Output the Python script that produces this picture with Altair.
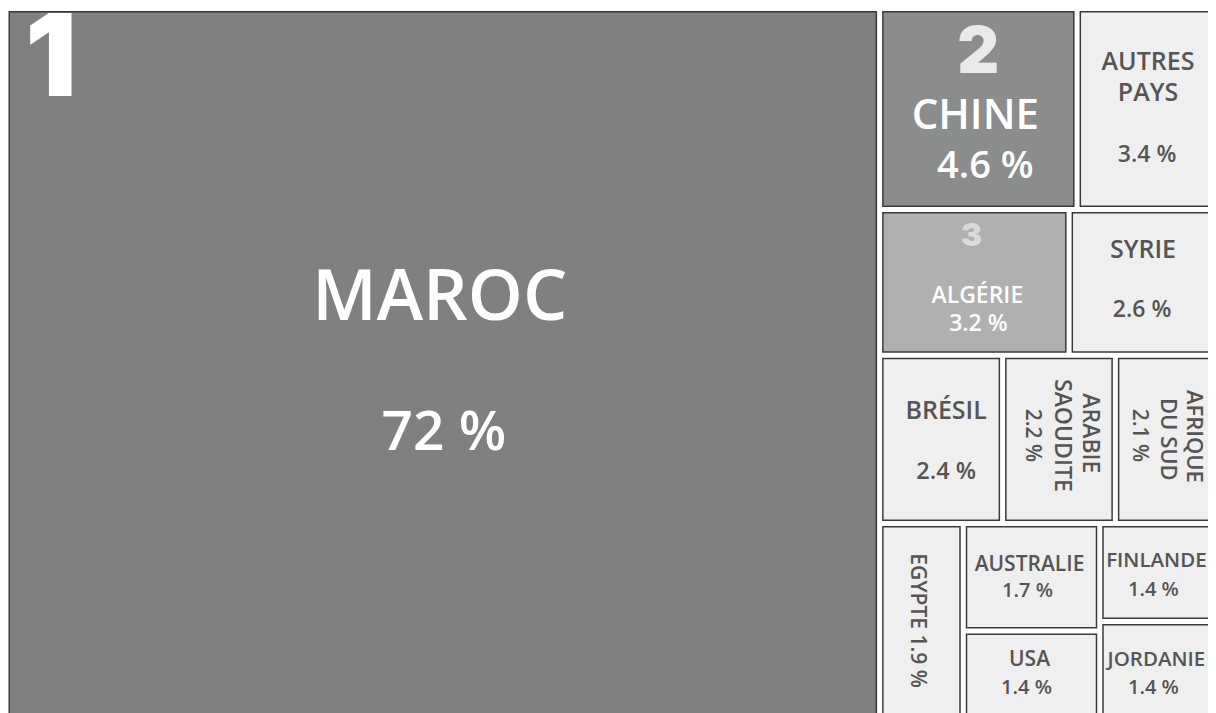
import altair as alt
import pandas as pd

# ---------------- data ----------------
countries = ["MAROC", "CHINE", "AUTRES PAYS", "ALGÉRIE", "SYRIE", "BRÉSIL",
             "ARABIE SAOUDITE", "AFRIQUE DU SUD", "EGYPTE", "AUSTRALIE", "USA",
             "FINLANDE", "JORDANIE"]
shares = [72, 4.6, 3.4, 3.2, 2.6, 2.4, 2.2, 2.1, 1.9, 1.7, 1.4, 1.4, 1.4]
ranks = {"MAROC": "1", "CHINE": "2", "ALGÉRIE": "3"}

# treemap nesting (slice / dice alternating)
nesting = ["MAROC",
           [["CHINE", "AUTRES PAYS"],
            ["ALGÉRIE", "SYRIE"],
            ["BRÉSIL", "ARABIE SAOUDITE", "AFRIQUE DU SUD"],
            ["EGYPTE", ["AUSTRALIE", "USA"], ["FINLANDE", "JORDANIE"]]]]

value = dict(zip(countries, shares))

def total(node):
    if isinstance(node, str):
        return value[node]
    return sum(total(c) for c in node)

rects = {}

def layout(node, x0, y0, x1, y1, horizontal):
    if isinstance(node, str):
        rects[node] = (x0, y0, x1, y1)
        return
    t = total(node)
    pos = x0 if horizontal else y0
    for c in node:
        frac = total(c) / t
        if horizontal:
            nxt = pos + (x1 - x0) * frac
            layout(c, pos, y0, nxt, y1, not horizontal)
        else:
            nxt = pos + (y1 - y0) * frac
            layout(c, x0, pos, x1, nxt, not horizontal)
        pos = nxt

layout(nesting, 0.0, 0.0, 1.0, 1.0, True)

def pct(v):
    return f"{v:g} %"

# ---------------- view (scales crop the treemap like the original) ----------------
W, H = 1200, 705
span_x, span_y = 1217.0, 711.0   # full treemap extent in px (a bit larger than the view)
xa = 2.0 / span_x
ya = -0.5 / span_y
xscale = alt.Scale(domain=[xa, xa + W / span_x], nice=False, zero=False)
yscale = alt.Scale(domain=[ya, ya + H / span_y], nice=False, zero=False, reverse=True)

fills = {"MAROC": "#808080", "CHINE": "#8b8c8c", "ALGÉRIE": "#b0b0b0"}

def inset(r, px):
    x0, y0, x1, y1 = r
    return (x0 + px / span_x, y0 + px / span_y, x1 - px / span_x, y1 - px / span_y)

border_df = pd.DataFrame([
    dict(zip(["x", "y", "x2", "y2"], inset(r, 2.5)), country=c) for c, r in rects.items()
])
tile_df = pd.DataFrame([
    dict(zip(["x", "y", "x2", "y2"], inset(r, 4.0)), country=c,
         fill=fills.get(c, "#efefef")) for c, r in rects.items()
])

# ---------------- label styling (offsets in px from tile centre) ----------------
# (text or None for the share, dx, dy, font size)
label_spec = {
    "MAROC": [("MAROC", -3, -65, 70), (None, 1, 69, 55)],
    "CHINE": [("CHINE", -3, 7, 42), (None, 7, 58, 38)],
    "AUTRES PAYS": [("AUTRES", -2, -47, 25), ("PAYS", -2, -16, 25), (None, -3, 46, 23)],
    "ALGÉRIE": [("ALGÉRIE", 3, 14, 23), (None, 4, 42, 23)],
    "SYRIE": [("SYRIE", -3, -32, 25), (None, -4, 28, 23)],
    "BRÉSIL": [("BRÉSIL", 5, -28, 25), (None, 5, 33, 23.5)],
    "ARABIE SAOUDITE": [("ARABIE", 31, -6, 23), ("SAOUDITE", 3, -4, 23), (None, -27, -4, 21)],
    "AFRIQUE DU SUD": [("AFRIQUE", 25, -3, 22), ("DU SUD", -1, 0, 22), (None, -30, -4, 21)],
    "EGYPTE": [("EGYPTE {p}", -4, -1, 21)],
    "AUSTRALIE": [("AUSTRALIE", -2, -12, 21), (None, -4, 14, 20)],
    "USA": [("USA", -2, -15, 21), (None, -5, 13, 20)],
    "FINLANDE": [("FINLANDE", -5, -12, 20.5), (None, -8, 17, 20)],
    "JORDANIE": [("JORDANIE", -5, -11, 20.5), (None, -8, 17, 20)],
}
rotated = {"ARABIE SAOUDITE", "AFRIQUE DU SUD", "EGYPTE"}
dark = {"MAROC", "CHINE", "ALGÉRIE"}

label_rows = []
for c in countries:
    x0, y0, x1, y1 = rects[c]
    for txt, dx, dy, size in label_spec[c]:
        if txt is None:
            txt = pct(value[c])
        txt = txt.replace("{p}", pct(value[c]))
        label_rows.append({
            "text": txt,
            "x": (x0 + x1) / 2 + dx / span_x,
            "y": (y0 + y1) / 2 + dy / span_y,
            "size": size,
            "angle": 90 if c in rotated else 0,
            "color": "#ffffff" if c in dark else "#555555",
        })
label_df = pd.DataFrame(label_rows)

rank_spec = {"MAROC": (0.0, 0.0, 45, 53, 114, "#ffffff"),
             "CHINE": (0.5, 0.0, 0, 44, 65, "#e9e9e9"),
             "ALGÉRIE": (0.5, 0.0, -3, 27, 32, "#dadada")}
rank_rows = []
for c, rk in ranks.items():
    x0, y0, x1, y1 = rects[c]
    fx, fy, dx, dy, size, col = rank_spec[c]
    rank_rows.append({"text": rk,
                      "x": x0 + (x1 - x0) * fx + dx / span_x,
                      "y": y0 + (y1 - y0) * fy + dy / span_y,
                      "size": size, "color": col})
rank_df = pd.DataFrame(rank_rows)

def rect_layer(df, **mark):
    return alt.Chart(df).mark_rect(**mark).encode(
        x=alt.X("x:Q", scale=xscale, axis=None),
        x2="x2:Q",
        y=alt.Y("y:Q", scale=yscale, axis=None),
        y2="y2:Q",
    )

borders = rect_layer(border_df, color="#3a3a3a")
tiles = rect_layer(tile_df).encode(fill=alt.Fill("fill:N", scale=None))

def text_layer(df, font, weight, with_angle=True):
    enc = dict(
        x=alt.X("x:Q", scale=xscale, axis=None),
        y=alt.Y("y:Q", scale=yscale, axis=None),
        text="text:N",
        size=alt.Size("size:Q", scale=None),
        color=alt.Color("color:N", scale=None),
    )
    if with_angle:
        enc["angle"] = alt.Angle("angle:Q", scale=None)
    return alt.Chart(df).mark_text(
        font=font, fontWeight=weight, align="center", baseline="middle"
    ).encode(**enc)

labels = text_layer(label_df, "Open Sans", 600)
rank_labels = text_layer(rank_df, "Inter", 900, with_angle=False)

chart = alt.layer(borders, tiles, labels, rank_labels).properties(
    width=W, height=H, padding=0, background="#ffffff",
    autosize=alt.AutoSizeParams(type="none"),
).configure_view(strokeWidth=0)

chart.save("out.html", embed_options={"renderer": "svg", "actions": False})
